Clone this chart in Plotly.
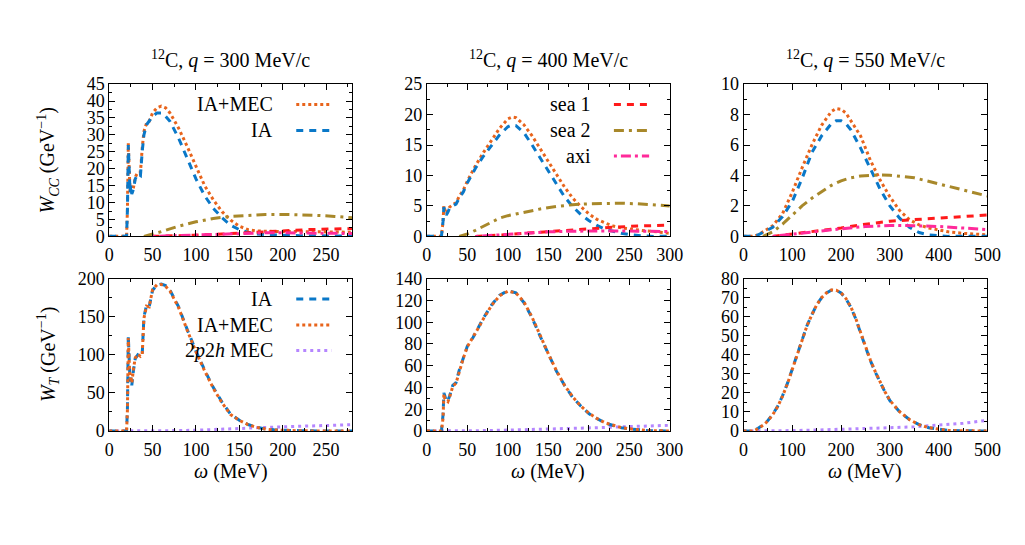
import plotly.graph_objects as go

W, H = 1025, 545

# ---------------- data ----------------
# q = 300 MeV/c, W_CC
cc300_x = [0, 10, 20, 21, 22, 23, 24, 25, 26, 28, 30, 33, 36, 38, 40, 43, 46, 50, 55, 60, 65, 70, 80, 90,
           100, 110, 120, 130, 140, 150, 160, 170, 180, 190, 200, 220, 240, 260, 280]
cc300_ia = [0, 0, 0, 8, 27, 20, 13, 15, 12.5, 14, 17, 18.5, 18, 25, 30, 33, 34, 35.5, 36.5, 36.5, 35.5, 34, 29, 23,
            17, 12, 8.3, 5.5, 3.3, 2.0, 1.2, 0.7, 0.5, 0.4, 0.3, 0.2, 0.2, 0.15, 0.1]
cc300_mec = [0, 0, 0, 8, 27.5, 20, 13.5, 15, 13, 14.5, 17.5, 19, 19, 26, 31, 33.5, 34, 36.5, 38, 38.5, 38, 36.5, 32, 26.5,
             20.5, 15, 10.8, 7.3, 4.8, 3.0, 2.0, 1.6, 1.5, 1.5, 1.5, 1.5, 1.4, 1.3, 1.2]
cc300_sea_x = [40, 50, 60, 70, 80, 100, 120, 140, 160, 180, 200, 220, 240, 260, 280]
cc300_sea2 = [0, 0.6, 1.4, 2.2, 3.0, 4.3, 5.3, 5.9, 6.3, 6.5, 6.5, 6.4, 6.2, 5.9, 5.5]
cc300_s1_x = [50, 70, 100, 130, 150, 180, 200, 230, 260, 280]
cc300_sea1 = [0, 0.1, 0.35, 0.7, 1.0, 1.4, 1.7, 2.0, 2.2, 2.3]
cc300_axi = [0, 0.15, 0.45, 0.8, 0.95, 1.05, 1.05, 1.0, 0.9, 0.85]

# q = 400 MeV/c, W_CC
cc400_x = [0, 10, 18, 20, 21, 22, 24, 26, 28, 32, 36, 40, 45, 50, 60, 70, 80, 90, 100, 105, 110, 120, 130, 140,
           150, 160, 170, 180, 190, 200, 210, 220, 230, 240, 250, 260, 270, 280, 290, 300]
cc400_ia = [0, 0, 0, 2.5, 4.8, 4.3, 3.5, 4.0, 4.6, 5.0, 5.3, 6.3, 7.3, 8.8, 11.2, 13.2, 15.0, 16.7, 18.0, 18.3, 18.2,
            17.0, 15.0, 12.9, 10.7, 8.6, 6.5, 4.9, 3.6, 2.6, 1.8, 1.2, 0.8, 0.5, 0.3, 0.15, 0.05, 0, 0, 0]
cc400_mec = [0, 0, 0, 2.5, 5.0, 4.5, 3.7, 4.2, 4.8, 5.2, 5.5, 6.6, 7.6, 9.1, 11.6, 13.8, 15.8, 17.8, 19.3, 19.6, 19.5,
             18.3, 16.5, 14.5, 12.3, 10.2, 8.1, 6.3, 4.9, 3.7, 2.8, 2.2, 1.7, 1.4, 1.2, 1.0, 0.9, 0.8, 0.7, 0.5]
cc400_sea_x = [40, 50, 60, 70, 80, 90, 100, 120, 140, 160, 180, 200, 220, 240, 260, 280, 300]
cc400_sea2 = [0, 0.4, 1.0, 1.7, 2.4, 3.0, 3.4, 4.0, 4.5, 4.9, 5.2, 5.35, 5.45, 5.45, 5.35, 5.2, 5.0]
cc400_s1_x = [60, 80, 100, 130, 150, 180, 200, 230, 260, 300]
cc400_sea1 = [0, 0.1, 0.3, 0.6, 0.8, 1.1, 1.3, 1.5, 1.7, 1.85]
cc400_axi = [0, 0.15, 0.35, 0.6, 0.75, 0.85, 0.9, 0.9, 0.85, 0.8]

# q = 550 MeV/c, W_CC
cc550_x = [0, 20, 30, 40, 60, 80, 100, 120, 140, 160, 180, 190, 200, 210, 220, 240, 260, 280, 300, 320, 340, 360,
           380, 400, 420, 450, 500]
cc550_ia = [0, 0, 0.1, 0.25, 0.6, 1.3, 2.3, 3.8, 5.5, 6.6, 7.4, 7.6, 7.6, 7.4, 7.0, 5.8, 4.4, 3.1, 2.0, 1.2, 0.6,
            0.25, 0.1, 0.05, 0, 0, 0]
cc550_mec = [0, 0, 0.1, 0.3, 0.7, 1.5, 2.9, 4.5, 6.0, 7.3, 8.2, 8.4, 8.35, 8.1, 7.6, 6.6, 5.0, 3.7, 2.6, 1.7, 1.1,
             0.75, 0.55, 0.4, 0.3, 0.2, 0.1]
cc550_sea_x = [40, 60, 80, 100, 120, 140, 160, 180, 200, 220, 240, 260, 280, 300, 320, 350, 400, 450, 500]
cc550_sea2 = [0, 0.3, 0.8, 1.4, 2.0, 2.5, 2.95, 3.35, 3.65, 3.85, 3.97, 4.02, 4.04, 4.02, 3.97, 3.85, 3.45, 3.05, 2.65]
cc550_s1_x = [60, 100, 150, 200, 250, 300, 350, 400, 450, 500]
cc550_sea1 = [0, 0.15, 0.35, 0.55, 0.8, 1.0, 1.1, 1.2, 1.3, 1.4]
cc550_axi_x = [60, 100, 150, 200, 250, 280, 300, 350, 400, 450, 500]
cc550_axi = [0, 0.15, 0.35, 0.5, 0.65, 0.72, 0.72, 0.7, 0.65, 0.55, 0.45]

# q = 300 MeV/c, W_T
t300_x = cc300_x
t300_ia = [0, 0, 0, 30, 125, 95, 65, 70, 60, 80, 95, 100, 98, 100, 150, 165, 163, 185, 192, 193, 191, 185, 163, 133,
           105, 80, 57, 38, 22, 14, 8.5, 5, 2.6, 1.5, 0.8, 0.3, 0.1, 0, 0]
t300_mec = [0, 0, 0, 28, 122, 92, 68, 72, 63, 82, 96, 101, 98, 100, 148, 164, 163, 186, 192, 192.5, 190, 184, 162, 132,
            104, 79, 56, 37, 21.5, 14, 8.3, 4.8, 2.5, 1.4, 0.7, 0.2, 0.05, 0, 0]
t300_p2h_x = [0, 40, 60, 80, 100, 120, 140, 160, 180, 200, 220, 240, 260, 280]
t300_p2h = [0, 0, 0.2, 0.5, 1.0, 1.7, 2.6, 3.6, 4.6, 5.5, 6.3, 7.0, 7.6, 8.2]

# q = 400 MeV/c, W_T
t400_x = [0, 10, 18, 20, 21, 22, 24, 26, 28, 32, 36, 40, 45, 50, 57, 65, 70, 80, 90, 100, 110, 120, 130, 140, 150,
          160, 170, 180, 190, 200, 210, 220, 230, 240, 250, 260, 270, 280, 290, 300]
t400_ia = [0, 0, 0, 15, 35, 33, 27, 28, 32, 42, 44.5, 56, 68, 78, 86, 97, 104, 116, 125, 129, 127, 118, 104, 87, 71,
           55, 42, 31, 23, 16, 11.5, 7.5, 5, 3, 2, 1, 0.5, 0.2, 0, 0]
t400_mec = [0, 0, 0, 12, 34, 30, 28, 27, 31, 41, 44, 55, 67, 77.5, 86, 96.5, 103.5, 115.5, 124.5, 128.5, 127, 118.5,
            104.5, 87.5, 71, 55.5, 42, 31.5, 23, 16.5, 11.5, 7.5, 5, 3.2, 2, 1.2, 0.6, 0.3, 0.1, 0]
t400_p2h_x = [0, 45, 60, 100, 150, 200, 250, 300]
t400_p2h = [0, 0, 0.2, 0.8, 1.6, 2.8, 4.0, 5.2]

# q = 550 MeV/c, W_T
t550_x = [0, 20, 30, 40, 50, 60, 70, 80, 90, 100, 110, 120, 130, 140, 150, 160, 170, 180, 190, 200, 210, 220, 230,
          240, 250, 260, 270, 280, 290, 300, 320, 340, 360, 380, 400, 420, 450, 500]
t550_ia = [0, 0, 1.4, 3.2, 5.5, 8.8, 13, 18.5, 25, 32.5, 41, 48.5, 55.3, 61, 66.4, 70, 72.5, 74, 74, 72.5, 69.5, 65,
           59, 51.5, 44, 37, 31, 25.5, 20.5, 16, 10, 6, 3.3, 1.7, 0.8, 0.3, 0.1, 0]
t550_mec = [0, 0, 1.2, 3.0, 5.3, 8.6, 12.8, 18.3, 24.8, 32.3, 40.8, 48.3, 55.2, 61, 66.3, 70, 72.6, 74.1, 74, 72.6,
            69.6, 65.2, 59.2, 51.8, 44.3, 37.3, 31.2, 25.6, 20.6, 16.1, 10.1, 6, 3.3, 1.7, 0.8, 0.3, 0.1, 0]
t550_p2h_x = [0, 45, 100, 150, 200, 250, 300, 350, 400, 450, 500]
t550_p2h = [0, 0, 0.2, 0.5, 0.8, 1.1, 1.7, 2.2, 3.0, 4.0, 5.6]

q_values = [300, 400, 550]
x_ranges = [280, 300, 500]
x_dticks = [50, 50, 100]
cc_yranges = [45, 25, 10]
cc_dticks = [5, 5, 2]
t_yranges = [200, 140, 80]
t_dticks = [50, 20, 10]

# ---------------- styling ----------------
FONT = "Liberation Serif"
FS = 18      # tick labels
FT = 20      # titles / legends
BLUE = '#0a78c8'
ORANGE = '#e8641c'
RED = '#ff1a1a'
OLIVE = '#a8882a'
PINK = '#ff2a9a'
PURPLE = '#b586ff'
LW = 3
ST = {
    'IA': dict(color=BLUE, dash='7px,6px', width=LW),
    'MEC': dict(color=ORANGE, dash='3px,3px', width=LW),
    'sea1': dict(color=RED, dash='7px,6px', width=LW),
    'sea2': dict(color=OLIVE, dash='10px,5px,3px,5px', width=LW),
    'axi': dict(color=PINK, dash='3px,4px,10px,4px', width=LW),
    'p2h': dict(color=PURPLE, dash='3px,4px', width=LW),
}

cols = [(107, 354), (430, 677), (752, 1000)]
rows = [(77, 235), (279, 437)]

fig = go.Figure()

def add(ax, x, y, key):
    fig.add_trace(go.Scatter(x=x, y=y, mode='lines', line=ST[key], xaxis='x' + ax, yaxis='y' + ax,
                             showlegend=False, hoverinfo='skip'))

panels_cc = [
    (cc300_x, cc300_ia, cc300_mec, cc300_s1_x, cc300_sea1, cc300_sea_x, cc300_sea2, cc300_s1_x, cc300_axi),
    (cc400_x, cc400_ia, cc400_mec, cc400_s1_x, cc400_sea1, cc400_sea_x, cc400_sea2, cc400_s1_x, cc400_axi),
    (cc550_x, cc550_ia, cc550_mec, cc550_s1_x, cc550_sea1, cc550_sea_x, cc550_sea2, cc550_axi_x, cc550_axi),
]
panels_t = [
    (t300_x, t300_ia, t300_mec, t300_p2h_x, t300_p2h),
    (t400_x, t400_ia, t400_mec, t400_p2h_x, t400_p2h),
    (t550_x, t550_ia, t550_mec, t550_p2h_x, t550_p2h),
]

layout = dict(width=W, height=H, margin=dict(l=0, r=0, t=0, b=0), paper_bgcolor='white',
              plot_bgcolor='white', font=dict(family=FONT, size=FS, color='black'), showlegend=False)

def axis_common():
    return dict(showgrid=False, zeroline=False, showline=True, linecolor='black', linewidth=1,
                mirror='ticks', ticks='inside', ticklen=6, tickwidth=1, tickcolor='black',
                tickfont=dict(family=FONT, size=FS, color='black'))

annotations = []
shapes = []

for r in range(2):
    for c in range(3):
        i = r * 3 + c + 1
        ax = '' if i == 1 else str(i)
        x0, x1 = cols[c]
        y0, y1 = rows[r]
        xa = axis_common()
        xa.update(domain=[x0 / W, x1 / W], anchor='y' + ax, range=[0, x_ranges[c]], dtick=x_dticks[c], tick0=0,
                  ticklabelstandoff=2,
                  minor=dict(ticks='inside', ticklen=3, dtick=x_dticks[c] / 2, tickcolor='black'))
        ya = axis_common()
        if r == 0:
            yr, yd = cc_yranges[c], cc_dticks[c]
        else:
            yr, yd = t_yranges[c], t_dticks[c]
        ya.update(domain=[1 - y1 / H, 1 - y0 / H], anchor='x' + ax, range=[0, yr], dtick=yd, tick0=0,
                  minor=dict(ticks='inside', ticklen=3, dtick=yd / 2, tickcolor='black'))
        layout['xaxis' + ax] = xa
        layout['yaxis' + ax] = ya

        if r == 0:
            px, ia, mec, s1x, s1, s2x, s2, axx, axi = panels_cc[c]
            add(ax, px, mec, 'MEC')
            add(ax, px, ia, 'IA')
            add(ax, s1x, s1, 'sea1')
            add(ax, s2x, s2, 'sea2')
            add(ax, axx, axi, 'axi')
            annotations.append(dict(xref='x' + ax + ' domain', yref='paper', x=0.5, y=1 - 51 / H,
                                    text='<sup>12</sup>C, <i>q</i> = %d MeV/c' % q_values[c],
                                    showarrow=False, xanchor='center', yanchor='middle',
                                    font=dict(family=FONT, size=FT)))
        else:
            px, ia, mec, p2x, p2 = panels_t[c]
            add(ax, p2x, p2, 'p2h')
            add(ax, px, ia, 'IA')
            add(ax, px, mec, 'MEC')
            annotations.append(dict(xref='x' + ax + ' domain', yref='paper', x=0.5, y=1 - 479 / H,
                                    text='<i>ω</i> (MeV)', showarrow=False, xanchor='center',
                                    yanchor='middle', font=dict(family=FONT, size=FT)))

# legends
def legend(ax, entries):
    fr = [0.867, 0.696, 0.528]
    for k, (label, key) in enumerate(entries):
        annotations.append(dict(xref='x' + ax + ' domain', yref='y' + ax + ' domain', x=0.684, y=fr[k],
                                text=label, showarrow=False, xanchor='right', yanchor='middle',
                                font=dict(family=FONT, size=FT)))
        s = ST[key]
        shapes.append(dict(type='line', xref='x' + ax + ' domain', yref='y' + ax + ' domain',
                           x0=0.77, x1=0.915, y0=fr[k], y1=fr[k],
                           line=dict(color=s['color'], dash=s['dash'], width=s['width'])))

legend('', [('IA+MEC', 'MEC'), ('IA', 'IA')])
legend('2', [('sea 1', 'sea1'), ('sea 2', 'sea2'), ('axi', 'axi')])
legend('4', [('IA', 'IA'), ('IA+MEC', 'MEC'), ('2<i>p</i>2<i>h</i> MEC', 'p2h')])

# y titles
annotations.append(dict(xref='paper', yref='paper', x=45 / W, y=1 - 156 / H,
                        text='<i>W</i><sub><i>CC</i></sub> (GeV<sup>−1</sup>)', textangle=-90,
                        showarrow=False, xanchor='center', yanchor='middle', font=dict(family=FONT, size=FT)))
annotations.append(dict(xref='paper', yref='paper', x=45 / W, y=1 - 358 / H,
                        text='<i>W</i><sub><i>T</i></sub> (GeV<sup>−1</sup>)', textangle=-90,
                        showarrow=False, xanchor='center', yanchor='middle', font=dict(family=FONT, size=FT)))

layout['annotations'] = annotations
layout['shapes'] = shapes
fig.update_layout(**layout)
fig.write_html("out.html")
